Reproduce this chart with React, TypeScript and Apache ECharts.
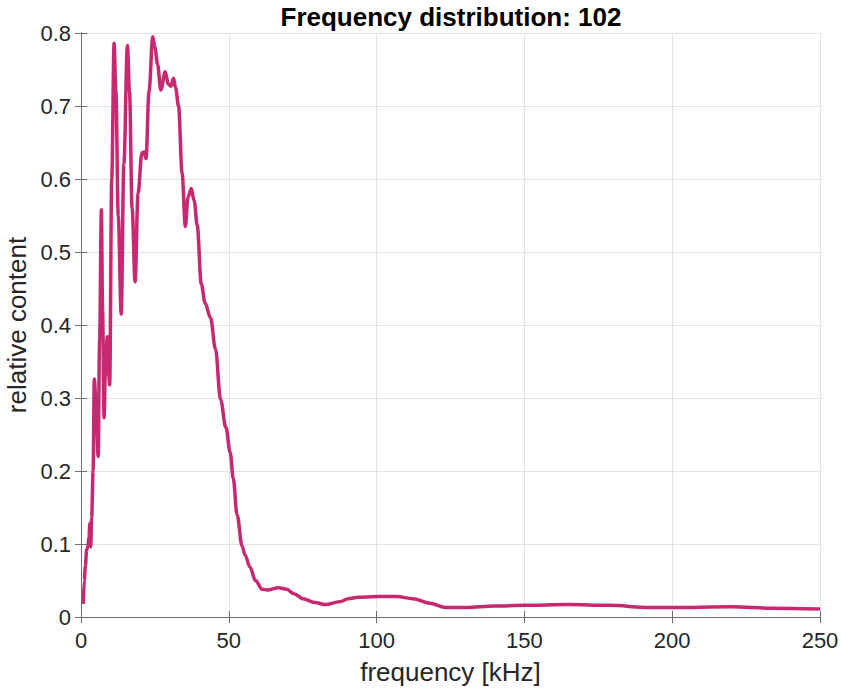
import React, { useEffect, useRef } from "react";
import * as echarts from "echarts";

const titleText = "Frequency distribution: 102";
const xName = "frequency [kHz]";
const yName = "relative content";

const freqKHz = [
  0.8, 1.1, 1.5, 1.9, 2.3, 2.7, 3.0, 3.3, 3.6, 4.1, 4.5, 5.0, 5.8, 6.3, 6.9, 7.3, 7.8, 8.2, 8.9, 9.7,
  10.4, 11.2, 11.8, 12.6, 13.6, 14.5, 15.7, 16.4, 17.3, 18.3, 19.3, 20.6, 21.3, 22.0, 23.0, 24.3, 25.0,
  25.9, 27.0, 28.5, 29.5, 30.4, 31.3, 32.0, 33.0, 34.2, 35.3, 36.2, 37.3, 38.3, 39.3, 40.7, 42.0, 43.8,
  45.5, 47.2, 49.0, 50.5, 51.5, 52.8, 54.5, 55.5, 57.2, 59.0, 61.3, 63.0, 66.8, 69.6, 72.0, 75.1, 79.0,
  82.7, 87.5, 90.5, 93.7, 100, 106.8, 112.3, 117.9, 123.4, 130.3, 139.9, 150, 164.8, 178.6, 192.3, 200,
  219.9, 233.7, 250,
];
const content = [
  0.018, 0.05, 0.07, 0.092, 0.095, 0.11, 0.128, 0.096, 0.136, 0.2, 0.326, 0.3, 0.22, 0.38, 0.558, 0.42,
  0.273, 0.33, 0.384, 0.318, 0.6, 0.786, 0.72, 0.55, 0.415, 0.62, 0.783, 0.72, 0.56, 0.459, 0.58, 0.636,
  0.637, 0.628, 0.72, 0.795, 0.78, 0.757, 0.722, 0.747, 0.73, 0.727, 0.738, 0.725, 0.7, 0.608, 0.535,
  0.575, 0.587, 0.57, 0.537, 0.456, 0.43, 0.41, 0.367, 0.298, 0.26, 0.225, 0.19, 0.14, 0.097, 0.085,
  0.068, 0.05, 0.038, 0.037, 0.04, 0.038, 0.032, 0.025, 0.02, 0.017, 0.021, 0.025, 0.027, 0.028, 0.028,
  0.025, 0.019, 0.013, 0.013, 0.015, 0.016, 0.017, 0.016, 0.013, 0.013, 0.014, 0.012, 0.011,
];

const FONT = "'Liberation Sans', Arial, Helvetica, sans-serif";
const TXT = "#262626";
const AX = "#6e6e6e";

export default function App() {
  const ref = useRef<HTMLDivElement>(null);
  useEffect(() => {
    if (!ref.current) return;
    const chart = echarts.init(ref.current, null, { renderer: "svg" });
    const data = freqKHz.map((f, i) => [f, content[i]]);
    const common = {
      axisLine: { show: true, lineStyle: { color: AX, width: 1 } },
      axisTick: { show: true, inside: true, length: 6, lineStyle: { color: AX } },
    };
    chart.setOption({
      animation: false,
      backgroundColor: "#ffffff",
      title: {
        text: titleText,
        left: 446,
        top: -1,
        textAlign: "center",
        textStyle: { fontFamily: FONT, fontSize: 26, fontWeight: "bold", color: "#000" },
      },
      grid: {
        left: 81,
        right: 21,
        top: 33,
        bottom: 76,
        containLabel: false,
        outerBoundsMode: "none",
      },
      xAxis: [
        {
          type: "value",
          min: 0,
          max: 250,
          interval: 50,
          position: "bottom",
          name: xName,
          nameLocation: "middle",
          nameGap: 42,
          nameTextStyle: { fontFamily: FONT, fontSize: 26, color: TXT },
          axisLabel: { fontFamily: FONT, fontSize: 22, color: TXT, margin: 12 },
          splitLine: { show: true, lineStyle: { color: "#e3e3e3", width: 1 } },
          ...common,
        },
        {
          type: "value",
          min: 0,
          max: 250,
          interval: 50,
          position: "top",
          axisLabel: { show: false },
          splitLine: { show: false },
          ...common,
        },
      ],
      yAxis: [
        {
          type: "value",
          min: 0,
          max: 0.8,
          interval: 0.1,
          position: "left",
          name: yName,
          nameLocation: "middle",
          nameGap: 47,
          nameTextStyle: { fontFamily: FONT, fontSize: 26, color: TXT },
          axisLabel: { fontFamily: FONT, fontSize: 22, color: TXT, margin: 10 },
          splitLine: { show: true, lineStyle: { color: "#e3e3e3", width: 1 } },
          ...common,
        },
        {
          type: "value",
          min: 0,
          max: 0.8,
          interval: 0.1,
          position: "right",
          axisLabel: { show: false },
          splitLine: { show: false },
          ...common,
        },
      ],
      series: [
        {
          type: "line",
          data,
          xAxisIndex: 0,
          yAxisIndex: 0,
          showSymbol: false,
          smooth: 0.35,
          smoothMonotone: "x",
          lineStyle: { color: "#c8286f", width: 3.5 },
          z: 3,
        },
      ],
    });
    return () => chart.dispose();
  }, []);
  return (
    <div
      ref={ref}
      style={{ position: "absolute", left: 0, top: 0, width: 841, height: 693, background: "#fff" }}
    />
  );
}
